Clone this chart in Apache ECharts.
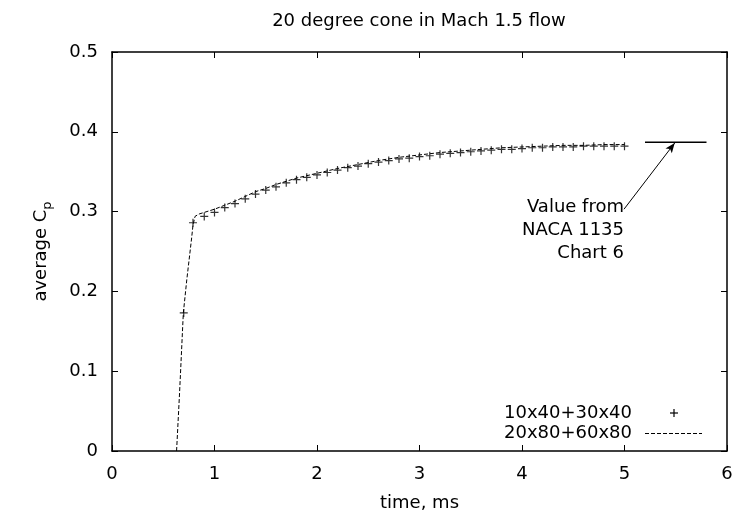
<!DOCTYPE html>
<html>
<head>
<meta charset="utf-8">
<script src="https://cdn.jsdelivr.net/npm/echarts@6/dist/echarts.min.js"></script>
<style>html,body{margin:0;padding:0;background:#fff}#c{width:739px;height:522px}</style>
</head>
<body>
<div id="c"></div>
<script>
// ---- data ----
var coarseTime = [0.70, 0.79, 0.90, 1.00, 1.10, 1.20, 1.30, 1.40, 1.50, 1.60, 1.70, 1.80, 1.90, 2.00, 2.10, 2.20, 2.30, 2.40, 2.50, 2.60, 2.70, 2.80, 2.90, 3.00, 3.10, 3.20, 3.30, 3.40, 3.50, 3.60, 3.70, 3.80, 3.90, 4.00, 4.10, 4.20, 4.30, 4.40, 4.50, 4.60, 4.70, 4.80, 4.90, 5.00];
var coarseCp = [0.173, 0.286, 0.294, 0.299, 0.305, 0.310, 0.316, 0.322, 0.327, 0.331, 0.336, 0.340, 0.343, 0.346, 0.349, 0.352, 0.355, 0.357, 0.360, 0.362, 0.364, 0.366, 0.367, 0.369, 0.370, 0.372, 0.373, 0.374, 0.375, 0.376, 0.377, 0.378, 0.378, 0.379, 0.380, 0.380, 0.381, 0.381, 0.381, 0.382, 0.382, 0.382, 0.382, 0.382];
var fineTime = [0.63, 0.66, 0.696, 0.73, 0.777, 0.79, 0.81, 0.85, 0.90, 1.00, 1.10, 1.20, 1.30, 1.40, 1.50, 1.60, 1.70, 1.80, 1.90, 2.00, 2.20, 2.40, 2.60, 2.80, 3.00, 3.20, 3.40, 3.60, 3.80, 4.00, 4.20, 4.40, 4.60, 4.80, 5.00];
var fineCp = [0.000, 0.075, 0.173, 0.215, 0.267, 0.283, 0.294, 0.297, 0.299, 0.303, 0.308, 0.313, 0.319, 0.325, 0.329, 0.334, 0.338, 0.342, 0.345, 0.348, 0.354, 0.359, 0.364, 0.368, 0.371, 0.374, 0.376, 0.378, 0.380, 0.381, 0.382, 0.383, 0.383, 0.384, 0.384];
var nacaTime = [5.2, 5.8];
var nacaCp = [0.387, 0.387];
var arrowFrom = [4.995, 0.303];
var arrowTo = [5.49, 0.386];
var xTicks = {min: 0, max: 6, interval: 1};
var yTicks = {min: 0, max: 0.5, interval: 0.1};
var seriesNames = ['10x40+30x40', '20x80+60x80'];
var noteLines = ['Value from', 'NACA 1135', 'Chart 6'];
var titleText = '20 degree cone in Mach 1.5 flow';

var FONT = 'DejaVu Sans';
var FS = 18;
function zip(a, b) { return a.map(function (v, i) { return [v, b[i]]; }); }
var plusPath = 'path://M3.4,0H4.6V8H3.4Z M0,3.4H8V4.6H0Z';

var chart = echarts.init(document.getElementById('c'), null, {renderer: 'canvas'});
var axisCommon = {
  axisLine: {show: true, onZero: false, lineStyle: {color: '#000', width: 1.5}},
  axisTick: {show: true, inside: true, length: 6, lineStyle: {color: '#000', width: 1}},
  splitLine: {show: false}
};
var option = {
  animation: false,
  textStyle: {fontFamily: FONT},
  grid: {left: 112, right: 12, top: 52, bottom: 71, containLabel: false},
  xAxis: [
    Object.assign({type: 'value', position: 'bottom', min: xTicks.min, max: xTicks.max, interval: xTicks.interval,
      name: 'time, ms', nameLocation: 'middle', nameGap: 43,
      nameTextStyle: {fontFamily: FONT, fontSize: FS, color: '#000'},
      axisLabel: {fontFamily: FONT, fontSize: FS, color: '#000', margin: 14}}, axisCommon),
    Object.assign({type: 'value', position: 'top', min: xTicks.min, max: xTicks.max, interval: xTicks.interval,
      axisLabel: {show: false}}, axisCommon)
  ],
  yAxis: [
    Object.assign({type: 'value', position: 'left', min: yTicks.min, max: yTicks.max, interval: yTicks.interval,
      name: '{n|average C}{s|p}', nameLocation: 'middle', nameGap: 62, nameRotate: 90,
      nameTextStyle: {fontFamily: FONT, fontSize: FS, color: '#000',
        rich: {
          n: {fontFamily: FONT, fontSize: FS, color: '#000', lineHeight: 18, verticalAlign: 'top'},
          s: {fontFamily: FONT, fontSize: 13, color: '#000', lineHeight: 13, padding: [9, 0, 0, 0], verticalAlign: 'top'}
        }},
      axisLabel: {fontFamily: FONT, fontSize: FS, color: '#000', margin: 14}}, axisCommon),
    Object.assign({type: 'value', position: 'right', min: yTicks.min, max: yTicks.max, interval: yTicks.interval,
      axisLabel: {show: false}}, axisCommon)
  ],
  series: [
    {
      name: seriesNames[1], type: 'line', xAxisIndex: 0, yAxisIndex: 0,
      data: zip(fineTime, fineCp), showSymbol: false, symbol: 'none', smooth: false,
      lineStyle: {color: '#000', width: 1, type: [4, 2]}, z: 2
    },
    {
      name: seriesNames[0], type: 'scatter', xAxisIndex: 0, yAxisIndex: 0,
      data: zip(coarseTime, coarseCp), symbol: plusPath, symbolSize: 8,
      itemStyle: {color: '#000'}, z: 3
    },
    {
      name: 'NACA', type: 'line', xAxisIndex: 0, yAxisIndex: 0,
      data: zip(nacaTime, nacaCp), symbol: 'none',
      lineStyle: {color: '#000', width: 1.5}, z: 2,
      markLine: {
        silent: true, symbol: ['none', 'arrow'], symbolSize: [6, 10],
        label: {show: false},
        lineStyle: {color: '#000', width: 1, type: 'solid'},
        data: [[{coord: arrowFrom}, {coord: arrowTo}]]
      }
    }
  ]
};
chart.setOption(option);

// annotation & legend text
var noteAnchor = chart.convertToPixel({xAxisIndex: 0, yAxisIndex: 0}, arrowFrom);
var graphics = [
  {type: 'text', x: 419, y: 21, style: {text: titleText, font: FS + 'px "' + FONT + '"', fill: '#000', textAlign: 'center', textVerticalAlign: 'middle'}}
];
noteLines.forEach(function (t, i) {
  graphics.push({type: 'text', x: noteAnchor[0], y: noteAnchor[1] - 2 + i * 23.3,
    style: {text: t, font: FS + 'px "' + FONT + '"', fill: '#000', textAlign: 'right', textVerticalAlign: 'middle'}});
});
// legend
graphics.push({type: 'text', x: 632, y: 413, style: {text: seriesNames[0], font: FS + 'px "' + FONT + '"', fill: '#000', textAlign: 'right', textVerticalAlign: 'middle'}});
graphics.push({type: 'text', x: 632, y: 433, style: {text: seriesNames[1], font: FS + 'px "' + FONT + '"', fill: '#000', textAlign: 'right', textVerticalAlign: 'middle'}});
graphics.push({type: 'rect', shape: {x: 670, y: 412.4, width: 8, height: 1.2}, style: {fill: '#000'}});
graphics.push({type: 'rect', shape: {x: 673.4, y: 409, width: 1.2, height: 8}, style: {fill: '#000'}});
graphics.push({type: 'line', shape: {x1: 645, y1: 433.5, x2: 702, y2: 433.5}, style: {stroke: '#000', lineWidth: 1, lineDash: [4, 2]}});
chart.setOption({graphic: graphics});
</script>
</body>
</html>
